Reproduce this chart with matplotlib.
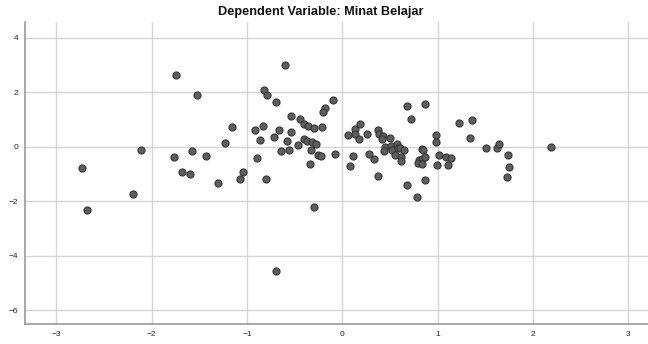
import matplotlib
matplotlib.use("Agg")
import matplotlib.pyplot as plt

# regression standardized predicted value vs standardized residual
pred = [
    -1.745, -1.528, -2.115, -1.577, -1.769, -1.430, -2.735, -1.678, -1.601, -1.307, -2.199, -2.685,
    -0.601, -0.825, -0.793, -0.696, -0.098, -0.188, -0.202, -0.541, -0.450, -1.161, -0.838, -0.922,
    -0.667, -0.541, -0.408, -0.366, -0.297, -0.213, -0.867, -0.720, -0.583, -0.408, -0.370, -0.321,
    -0.276, -1.237, -0.465, -0.643, -0.559, -0.332, -0.083, -0.258, -0.227, -0.895, -0.345, -1.045,
    -1.077, -0.807, -0.303, -0.699, 0.053, 0.130, 0.183, 0.130, 0.172, 0.256, 0.375, 0.382,
    0.427, 0.410, 0.494, 0.442, 0.434, 0.511, 0.518, 0.568, 0.578, 0.550, 0.280, 0.326,
    0.112, 0.081, 0.375,
    0.673, 0.868, 0.718, 1.221, 1.355, 0.983, 0.983, 1.337, 0.602, 0.644, 0.836, 0.847,
    0.616, 0.616, 0.802, 0.830, 0.868, 0.791, 0.836, 1.015, 1.088, 1.134, 0.987, 1.106,
    1.505, 1.623, 1.638, 1.739, 1.743, 1.725, 2.187, 0.676, 0.868, 0.777,
]
resid = [
    2.62, 1.89, -0.10, -0.17, -0.37, -0.35, -0.79, -0.93, -0.99, -1.33, -1.72, -2.32,
    2.99, 2.08, 1.90, 1.63, 1.70, 1.42, 1.27, 1.14, 1.02, 0.73, 0.78, 0.60,
    0.60, 0.56, 0.83, 0.78, 0.70, 0.73, 0.25, 0.36, 0.20, 0.27, 0.23, 0.17,
    0.12, 0.14, 0.05, -0.15, -0.11, -0.10, -0.26, -0.32, -0.35, -0.40, -0.65, -0.94,
    -1.20, -1.20, -2.21, -4.56, 0.43, 0.64, 0.83, 0.47, 0.28, 0.48, 0.60, 0.48,
    0.39, 0.28, 0.33, -0.02, -0.15, 0.03, -0.12, 0.09, -0.04, -0.30, -0.27, -0.45,
    -0.34, -0.72, -1.09,
    1.49, 1.56, 1.03, 0.86, 1.00, 0.45, 0.16, 0.31, -0.06, -0.12, -0.08, -0.10,
    -0.37, -0.52, -0.48, -0.46, -0.39, -0.59, -0.65, -0.29, -0.37, -0.43, -0.67, -0.67,
    -0.04, -0.04, 0.10, -0.30, -0.73, -1.12, 0.00, -1.42, -1.23, -1.85,
]
xticks = [-3, -2, -1, 0, 1, 2, 3]
yticks = [-6, -4, -2, 0, 2, 4]
title = "Dependent Variable: Minat Belajar"

plt.rcParams['font.family'] = ['Liberation Sans', 'DejaVu Sans']

fig = plt.figure(figsize=(6.48, 3.44), dpi=100)
ax = fig.add_axes([0.0386, 0.0573, 0.9614, 0.8777])

ax.scatter(pred, resid, s=26, facecolors='#5e5e5e', edgecolors='#363636',
           linewidths=0.8, zorder=3)

ax.set_xlim(-3.33, 3.205)
ax.set_ylim(-6.52, 4.57)
ax.set_xticks(xticks)
ax.set_yticks(yticks)
ax.tick_params(length=0, labelsize=6, colors='#222222', pad=5)
ax.grid(True, color='#d6d6d6', linewidth=1.0, zorder=0)
ax.set_axisbelow(True)

for side in ['top', 'right']:
    ax.spines[side].set_visible(False)
for side in ['left', 'bottom']:
    ax.spines[side].set_color('#9a9a9a')
    ax.spines[side].set_linewidth(1.2)

fig.text(0.495, 0.965, title, ha='center', va='center', fontsize=9.2,
         fontweight='bold', color='#111111')

fig.savefig('out.png', dpi=100)
